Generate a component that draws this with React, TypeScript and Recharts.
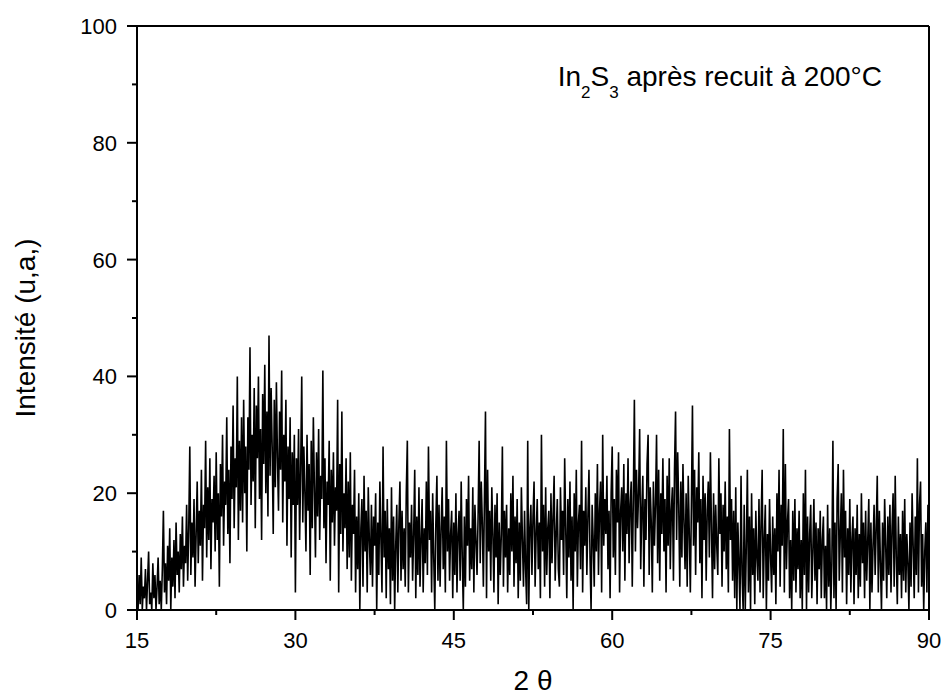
import { LineChart, Line, XAxis, YAxis, ReferenceLine } from "recharts"

// 2θ scan, one reading every 0.1° from 15° to 90°
const twoThetaStart = 15
const twoThetaStep = 0.1

// intensité, par tranches de 2,5°
const int15_0 = [3, 0, 6, 1, 9, 0, 4, 2, 7, 0, 5, 10, 1, 3, 0, 8, 2, 6, 0, 4, 9, 1, 5, 0, 7]
const int17_5 = [17, 3, 8, 1, 11, 5, 14, 0, 9, 4, 12, 2, 15, 6, 10, 3, 13, 7, 16, 4, 11, 8, 18, 5, 14]
const int20_0 = [28, 6, 15, 9, 19, 4, 13, 22, 8, 17, 11, 24, 5, 18, 14, 29, 9, 21, 12, 26, 7, 19, 15, 23, 10]
const int22_5 = [27, 12, 20, 4, 25, 16, 30, 11, 22, 18, 33, 13, 24, 8, 28, 19, 35, 14, 26, 21, 40, 12, 29, 17, 33]
const int25_0 = [15, 36, 20, 28, 10, 33, 24, 45, 18, 30, 22, 38, 14, 35, 26, 40, 19, 31, 12, 37, 25, 42, 20, 34, 16]
const int27_5 = [47, 23, 38, 28, 13, 36, 21, 39, 26, 17, 34, 24, 41, 15, 30, 22, 36, 11, 28, 19, 33, 9, 27, 18, 30]
const int30_0 = [3, 26, 18, 31, 12, 24, 40, 15, 28, 20, 10, 30, 17, 25, 6, 29, 14, 33, 21, 9, 27, 16, 31, 12, 23]
const int32_5 = [19, 41, 14, 26, 8, 22, 18, 29, 5, 24, 15, 27, 11, 21, 17, 36, 3, 25, 13, 34, 10, 20, 14, 26, 7]
const int35_0 = [22, 9, 27, 5, 18, 13, 24, 3, 16, 7, 20, 0, 14, 19, 4, 23, 10, 17, 3, 21, 12, 6, 18, 4, 16]
const int37_5 = [11, 20, 0, 15, 6, 22, 12, 3, 28, 9, 17, 2, 19, 7, 14, 1, 21, 5, 16, 0, 11, 18, 3, 15, 22]
const int40_0 = [5, 17, 7, 14, 4, 20, 29, 3, 15, 9, 18, 5, 13, 24, 2, 16, 6, 21, 4, 12, 19, 3, 14, 8, 22]
const int42_5 = [6, 28, 12, 17, 3, 20, 9, 0, 15, 23, 5, 18, 4, 14, 21, 7, 16, 3, 29, 10, 19, 5, 13, 17, 2]
const int45_0 = [15, 6, 20, 3, 13, 17, 5, 22, 9, 0, 16, 4, 19, 11, 23, 5, 14, 7, 21, 3, 18, 12, 6, 16, 29]
const int47_5 = [8, 22, 15, 4, 19, 34, 2, 24, 10, 17, 5, 21, 13, 3, 18, 9, 20, 1, 15, 6, 13, 28, 4, 17, 9]
const int50_0 = [18, 3, 14, 6, 20, 10, 23, 4, 16, 8, 19, 2, 15, 5, 21, 12, 4, 17, 7, 1, 29, 0, 14, 18, 6]
const int52_5 = [16, 22, 4, 13, 19, 7, 15, 2, 30, 10, 18, 4, 21, 6, 14, 17, 2, 20, 8, 16, 23, 5, 13, 19, 7]
const int55_0 = [4, 21, 12, 17, 6, 26, 14, 2, 19, 9, 22, 5, 16, 0, 20, 10, 24, 4, 15, 18, 7, 29, 3, 17, 11]
const int57_5 = [21, 6, 16, 24, 9, 0, 18, 12, 4, 20, 10, 25, 6, 17, 22, 3, 30, 11, 19, 13, 23, 7, 17, 2, 20]
const int60_0 = [28, 9, 19, 6, 24, 15, 27, 3, 17, 21, 10, 25, 5, 20, 13, 26, 8, 18, 22, 4, 19, 36, 10, 24, 14]
const int62_5 = [20, 31, 7, 17, 23, 4, 19, 12, 25, 30, 6, 21, 15, 3, 22, 11, 18, 30, 8, 24, 5, 20, 13, 26, 10]
const int65_0 = [19, 3, 23, 11, 26, 7, 17, 21, 5, 24, 34, 12, 27, 18, 4, 22, 9, 25, 15, 7, 20, 4, 23, 13, 3]
const int67_5 = [18, 35, 11, 24, 6, 21, 15, 27, 8, 19, 2, 23, 12, 20, 5, 17, 22, 9, 27, 14, 2, 20, 7, 18, 11]
const int70_0 = [6, 26, 13, 20, 4, 18, 10, 22, 7, 16, 3, 31, 12, 19, 5, 17, 2, 21, 0, 15, 8, 0, 23, 6, 0]
const int72_5 = [18, 0, 11, 24, 3, 16, 0, 20, 6, 14, 1, 17, 9, 5, 19, 3, 15, 24, 2, 12, 18, 0, 13, 5, 19]
const int75_0 = [9, 3, 16, 6, 14, 1, 20, 10, 24, 4, 18, 11, 31, 3, 25, 7, 15, 19, 2, 12, 0, 17, 5, 19, 3]
const int77_5 = [14, 7, 17, 2, 12, 0, 20, 6, 24, 0, 16, 3, 13, 18, 2, 10, 19, 5, 15, 1, 14, 7, 17, 2, 12]
const int80_0 = [16, 2, 11, 0, 18, 4, 14, 0, 8, 29, 2, 15, 0, 19, 25, 5, 13, 20, 3, 24, 9, 17, 1, 14, 6]
const int82_5 = [19, 3, 12, 16, 1, 14, 6, 18, 2, 13, 4, 20, 8, 15, 2, 17, 5, 12, 19, 0, 15, 3, 11, 18, 6]
const int85_0 = [14, 23, 3, 17, 8, 0, 15, 5, 19, 11, 2, 16, 6, 18, 3, 14, 20, 4, 23, 9, 1, 16, 6, 13, 2]
const int87_5 = [17, 5, 19, 3, 13, 8, 0, 15, 4, 20, 11, 2, 16, 6, 26, 3, 18, 22, 4, 13, 0, 10, 15, 3, 18, 6]

const xTicks = [15, 22.5, 30, 37.5, 45, 52.5, 60, 67.5, 75, 82.5, 90]
const xLabels = [15, 30, 45, 60, 75, 90]
const yTicks = [0, 10, 20, 30, 40, 50, 60, 70, 80, 90, 100]
const yLabels = [0, 20, 40, 60, 80, 100]

const intensity = [
  ...int15_0, ...int17_5, ...int20_0, ...int22_5, ...int25_0, ...int27_5,
  ...int30_0, ...int32_5, ...int35_0, ...int37_5, ...int40_0, ...int42_5,
  ...int45_0, ...int47_5, ...int50_0, ...int52_5, ...int55_0, ...int57_5,
  ...int60_0, ...int62_5, ...int65_0, ...int67_5, ...int70_0, ...int72_5,
  ...int75_0, ...int77_5, ...int80_0, ...int82_5, ...int85_0, ...int87_5,
]

const data = intensity.map((v, i) => ({
  x: +(twoThetaStart + i * twoThetaStep).toFixed(1),
  y: v,
}))

const FONT = "'Liberation Sans', Arial, sans-serif"

function XTick(props: any) {
  const { x, y, payload } = props
  const major = xLabels.includes(payload.value)
  return (
    <g>
      <line x1={x} y1={y} x2={x} y2={y + (major ? 10 : 5)} stroke="#000" strokeWidth={2} />
      {major && (
        <text x={x} y={y + 38} textAnchor="middle" fontSize={22} fontFamily={FONT} fill="#000">
          {payload.value}
        </text>
      )}
    </g>
  )
}

function YTick(props: any) {
  const { x, y, payload } = props
  const major = yLabels.includes(payload.value)
  return (
    <g>
      <line x1={x} y1={y} x2={x - (major ? 10 : 5)} y2={y} stroke="#000" strokeWidth={2} />
      {major && (
        <text x={x - 20} y={y + 8} textAnchor="end" fontSize={22} fontFamily={FONT} fill="#000">
          {payload.value}
        </text>
      )}
    </g>
  )
}

export default function App() {
  return (
    <div style={{ position: "absolute", left: 0, top: 0, width: 944, height: 700, background: "#fff" }}>
      <LineChart width={944} height={700} data={data} margin={{ top: 26, right: 15, bottom: 60, left: 0 }}>
        <XAxis
          dataKey="x"
          type="number"
          domain={[15, 90]}
          ticks={xTicks}
          interval={0}
          tickSize={0}
          tickMargin={0}
          tickLine={false}
          tick={<XTick />}
          height={30}
          allowDataOverflow
          axisLine={{ stroke: "#000", strokeWidth: 2 }}
        />
        <YAxis
          type="number"
          domain={[0, 100]}
          ticks={yTicks}
          interval={0}
          tickSize={0}
          tickMargin={0}
          tickLine={false}
          tick={<YTick />}
          width={137}
          allowDataOverflow
          axisLine={{ stroke: "#000", strokeWidth: 2 }}
        />
        <ReferenceLine y={100} stroke="#000" strokeWidth={2} />
        <ReferenceLine x={90} stroke="#000" strokeWidth={2} />
        <Line
          type="linear"
          dataKey="y"
          stroke="#000"
          strokeWidth={1.6}
          dot={false}
          isAnimationActive={false}
        />
      </LineChart>
      <svg width={944} height={700} style={{ position: "absolute", left: 0, top: 0, pointerEvents: "none" }}>
        <text x={35} y={328} transform="rotate(-90 35 328)" textAnchor="middle" fontSize={28} fontFamily={FONT} fill="#000">
          Intensité (u,a,)
        </text>
        <text x={533} y={690} textAnchor="middle" fontSize={28} fontFamily={FONT} fill="#000">
          2 θ
        </text>
        <text x={882} y={86} textAnchor="end" fontSize={28} fontFamily={FONT} fill="#000">
          In<tspan fontSize={17} dy={12}>2</tspan><tspan dy={-12}>S</tspan><tspan fontSize={17} dy={12}>3</tspan><tspan dy={-12}> après recuit à 200°C</tspan>
        </text>
      </svg>
    </div>
  )
}
